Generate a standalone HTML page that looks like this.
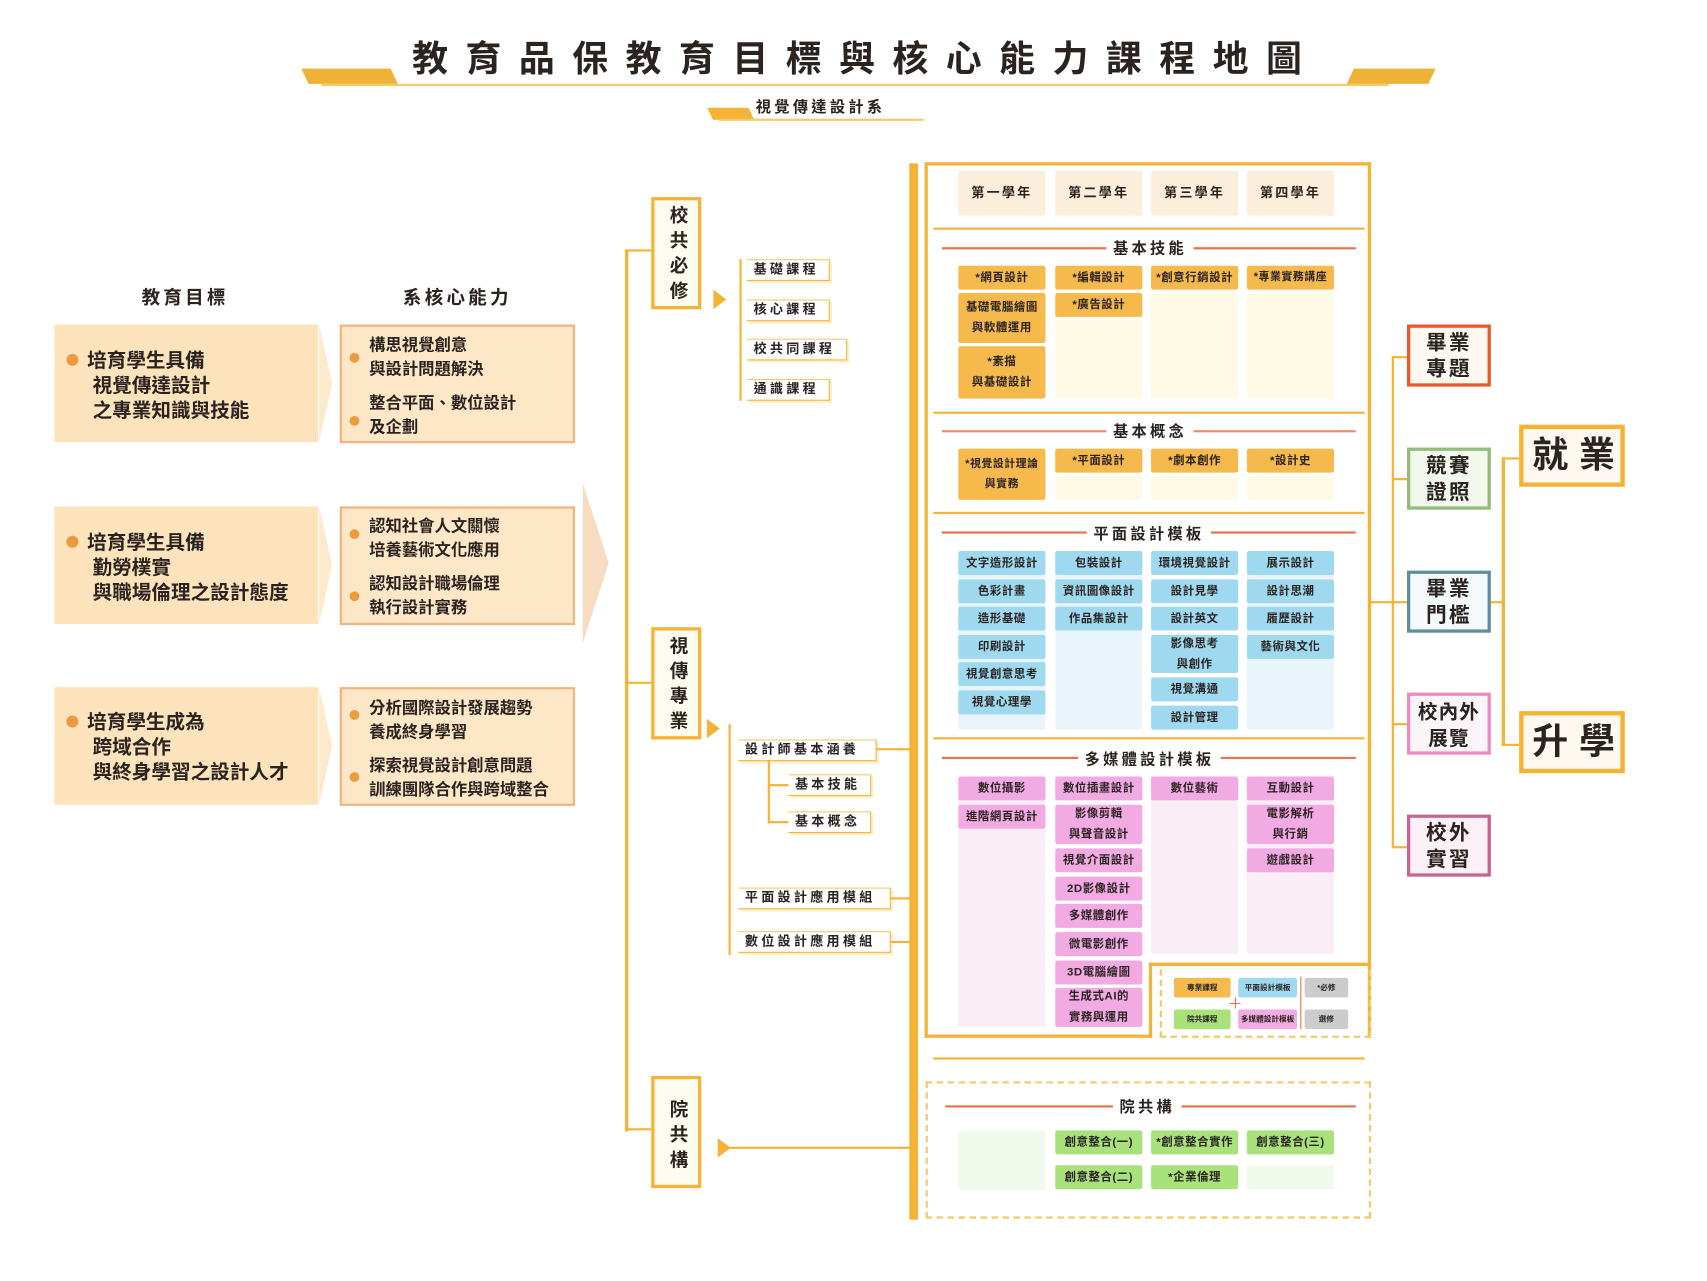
<!DOCTYPE html>
<html><head><meta charset="utf-8">
<style>
html,body{margin:0;padding:0;background:#fff;}
body{width:1707px;height:1280px;overflow:hidden;position:relative;}
#w{position:absolute;left:0;top:0;width:1568px;height:1176px;transform:scale(1.089);transform-origin:0 0;font-family:"Liberation Sans","Noto Sans CJK TC",sans-serif;color:#2a2320;}
#w div{position:absolute;box-sizing:border-box;}
.c{width:80px;display:flex;align-items:center;justify-content:center;font-size:10.5px;font-weight:bold;text-align:center;line-height:1.8;border-radius:2px;letter-spacing:0.5px;}
.o{background:#f6b94c;}
.po{background:#fefae6;}
.b{background:#9fd9ef;}
.pb{background:#eaf5fb;}
.p{background:#f2aae3;}
.pp{background:#f9eef6;}
.g{background:#a9e27b;}
.pg{background:#f1f8ec;}
.y{background:#fbeedb;}
.ln{background:#f5b335;}
.rl{background:#e9704a;height:1.5px;}
.st{font-size:14px;font-weight:bold;letter-spacing:3px;background:#fff;padding:0 6px;}
.tag{height:20px;background:#fff;border:1.5px solid #f5b335;border-left:none;border-top:1px solid #f5c96a;font-size:12px;font-weight:bold;letter-spacing:3px;padding-left:6px;line-height:17px;box-shadow:2px 2px 0 #fdf0c8;white-space:nowrap;}
.goal{background:#fde3bb;font-size:18px;font-weight:bold;line-height:23px;}
.core{background:#fde7c6;border:2px solid #efb480;font-size:15px;font-weight:bold;line-height:22px;}
.dot{width:11px;height:11px;border-radius:50%;background:#ec9a3f;}
.vb{background:#fefbf0;border:3px solid #f5b335;font-size:17px;font-weight:bold;writing-mode:vertical-rl;text-align:center;line-height:40px;letter-spacing:6px;}
.out{width:77px;height:57px;border:3px solid;font-size:19px;font-weight:bold;text-align:center;line-height:24px;padding-top:3px;letter-spacing:2px;white-space:nowrap;}
.big{width:97px;height:57px;border:4px solid #f5b335;background:#fdf9f0;font-size:33px;font-weight:bold;text-align:center;line-height:48px;letter-spacing:10px;padding-left:8px;white-space:nowrap;}
.lg{font-size:7px;font-weight:bold;display:flex;align-items:center;justify-content:center;border-radius:2px;white-space:nowrap;}
</style></head><body><div id="w">

<!-- title -->
<div style="left:280px;top:63px;width:82px;height:14px;background:#edb236;transform:skewX(25deg);"></div>
<div style="left:1240px;top:63px;width:75px;height:14px;background:#edb236;transform:skewX(-25deg);"></div>
<div style="left:295px;top:77px;width:980px;height:2px;background:#f5c96a;"></div>
<div style="left:300px;top:32px;width:990px;text-align:center;font-size:33px;font-weight:bold;letter-spacing:16px;line-height:44px;">教育品保教育目標與核心能力課程地圖</div>
<div style="left:652px;top:99px;width:38px;height:11px;background:#f5b335;transform:skewX(25deg);"></div>
<div style="left:660px;top:109px;width:188px;height:2px;background:#f5c96a;"></div>
<div style="left:694px;top:88px;font-size:14px;font-weight:bold;letter-spacing:3px;line-height:20px;">視覺傳達設計系</div>

<!-- headings -->
<div style="left:110px;top:259px;width:120px;text-align:center;font-size:17px;font-weight:bold;letter-spacing:3px;">教育目標</div>
<div style="left:350px;top:259px;width:140px;text-align:center;font-size:17px;font-weight:bold;letter-spacing:3px;">系核心能力</div>

<!-- goals -->
<div class="goal" style="left:50px;top:298px;width:242px;height:108px;padding:22px 0 0 30px;">培育學生具備<br>&nbsp;視覺傳達設計<br>&nbsp;之專業知識與技能</div>
<div class="dot" style="left:61px;top:325px;"></div>
<div class="goal" style="left:50px;top:465px;width:242px;height:108px;padding:22px 0 0 30px;">培育學生具備<br>&nbsp;勤勞樸實<br>&nbsp;與職場倫理之設計態度</div>
<div class="dot" style="left:61px;top:492px;"></div>
<div class="goal" style="left:50px;top:631px;width:242px;height:108px;padding:21px 0 0 30px;">培育學生成為<br>&nbsp;跨域合作<br>&nbsp;與終身學習之設計人才</div>
<div class="dot" style="left:61px;top:657px;"></div>
<svg style="position:absolute;left:293px;top:298px" width="14" height="442"><polygon points="0,0 12,54 0,108" fill="#fde9cc"/><polygon points="0,167 12,221 0,275" fill="#fde9cc"/><polygon points="0,333 12,387 0,441" fill="#fde9cc"/></svg>

<div class="core" style="left:312px;top:298px;width:216px;height:109px;padding:7px 0 0 25px;">構思視覺創意<br>與設計問題解決<br><div style="position:static;height:9px"></div>整合平面、數位設計<br>及企劃</div>
<div class="dot" style="left:321px;top:324px;width:9px;height:9px"></div><div class="dot" style="left:321px;top:382px;width:9px;height:9px"></div>
<div class="core" style="left:312px;top:465px;width:216px;height:109px;padding:6px 0 0 25px;">認知社會人文關懷<br>培養藝術文化應用<br><div style="position:static;height:9px"></div>認知設計職場倫理<br>執行設計實務</div>
<div class="dot" style="left:321px;top:486px;width:9px;height:9px"></div><div class="dot" style="left:321px;top:543px;width:9px;height:9px"></div>
<div class="core" style="left:312px;top:631px;width:216px;height:109px;padding:7px 0 0 25px;">分析國際設計發展趨勢<br>養成終身學習<br><div style="position:static;height:9px"></div>探索視覺設計創意問題<br>訓練團隊合作與跨域整合</div>
<div class="dot" style="left:321px;top:652px;width:9px;height:9px"></div><div class="dot" style="left:321px;top:709px;width:9px;height:9px"></div>
<svg style="position:absolute;left:535px;top:443px" width="26" height="150"><polygon points="0,0 24,74 0,148" fill="#f7dcc4"/></svg>

<!-- trunk -->
<div class="ln" style="left:574px;top:229px;width:3px;height:810px;"></div>
<div class="ln" style="left:574px;top:229px;width:24px;height:2px;"></div>
<div class="ln" style="left:574px;top:626px;width:24px;height:2px;"></div>
<div class="ln" style="left:574px;top:1036px;width:24px;height:2px;"></div>
<div class="vb" style="left:598px;top:181px;width:46px;height:103px;padding-top:4px;">校共必修</div>
<div class="vb" style="left:598px;top:576px;width:46px;height:103px;padding-top:4px;">視傳專業</div>
<div class="vb" style="left:598px;top:988px;width:46px;height:103px;padding-top:10px;">院共構</div>
<svg style="position:absolute;left:655px;top:266px" width="14" height="18"><polygon points="0,0 12,9 0,18" fill="#f5b335"/></svg>
<svg style="position:absolute;left:649px;top:660px" width="14" height="18"><polygon points="0,0 12,9 0,18" fill="#f5b335"/></svg>
<svg style="position:absolute;left:659px;top:1045px" width="14" height="18"><polygon points="0,0 12,9 0,18" fill="#f5b335"/></svg>
<div class="ln" style="left:670px;top:1053px;width:167px;height:2px;"></div>

<!-- 校共必修 sub -->
<div class="ln" style="left:679px;top:238px;width:2px;height:130px;"></div>
<div class="tag" style="left:686px;top:238px;width:76px;">基礎課程</div>
<div class="tag" style="left:686px;top:275px;width:76px;">核心課程</div>
<div class="tag" style="left:686px;top:311px;width:92px;">校共同課程</div>
<div class="tag" style="left:686px;top:348px;width:76px;">通識課程</div>

<!-- 視傳專業 sub -->
<div class="ln" style="left:669px;top:665px;width:2px;height:212px;"></div>
<div class="tag" style="left:678px;top:679px;width:127px;">設計師基本涵養</div>
<div class="ln" style="left:805px;top:687px;width:31px;height:2px;"></div>
<div class="ln" style="left:705px;top:698px;width:2px;height:58px;"></div>
<div class="ln" style="left:705px;top:720px;width:19px;height:2px;"></div>
<div class="ln" style="left:705px;top:754px;width:19px;height:2px;"></div>
<div class="tag" style="left:724px;top:711px;width:76px;">基本技能</div>
<div class="tag" style="left:724px;top:745px;width:76px;">基本概念</div>
<div class="tag" style="left:678px;top:815px;width:140px;">平面設計應用模組</div>
<div class="tag" style="left:678px;top:855px;width:140px;">數位設計應用模組</div>
<div class="ln" style="left:818px;top:824px;width:18px;height:2px;"></div>
<div class="ln" style="left:818px;top:864px;width:18px;height:2px;"></div>

<!-- main bar & frame -->
<div class="ln" style="left:835px;top:150px;width:8px;height:970px;"></div>
<div style="left:849px;top:149px;width:410px;height:804px;border:3px solid #f5b335;border-bottom:none;"></div>
<div class="ln" style="left:849px;top:950px;width:209px;height:3px;"></div>
<div class="ln" style="left:1055px;top:884px;width:3px;height:69px;"></div>
<div class="ln" style="left:1055px;top:884px;width:204px;height:3px;"></div>
<div style="left:1065px;top:890px;width:194px;height:63px;border:2px dashed #f5c96a;border-top:none;"></div>

<!-- years -->
<div class="c y" style="left:880px;top:157px;height:41px;font-size:12px;letter-spacing:2px;">第一學年</div>
<div class="c y" style="left:969px;top:157px;height:41px;font-size:12px;letter-spacing:2px;">第二學年</div>
<div class="c y" style="left:1057px;top:157px;height:41px;font-size:12px;letter-spacing:2px;">第三學年</div>
<div class="c y" style="left:1145px;top:157px;height:41px;font-size:12px;letter-spacing:2px;">第四學年</div>

<div class="ln" style="left:857px;top:209px;width:396px;height:2px;"></div>
<div class="ln" style="left:857px;top:378px;width:396px;height:2px;"></div>
<div class="ln" style="left:857px;top:470px;width:396px;height:2px;"></div>
<div class="ln" style="left:857px;top:677px;width:396px;height:2px;"></div>
<div class="ln" style="left:857px;top:971px;width:396px;height:2px;"></div>

<!-- 基本技能 -->
<div class="rl" style="left:865px;top:227px;width:380px;"></div>
<div class="st" style="left:1016px;top:218px;">基本技能</div>
<div class="c o" style="left:880px;top:244px;height:22px;">*網頁設計</div>
<div class="c o" style="left:880px;top:269px;height:46px;">基礎電腦繪圖<br>與軟體運用</div>
<div class="c o" style="left:880px;top:318px;height:48px;">*素描<br>與基礎設計</div>
<div class="c o" style="left:969px;top:244px;height:22px;">*編輯設計</div>
<div class="c o" style="left:969px;top:269px;height:22px;">*廣告設計</div>
<div class="c po" style="left:969px;top:294px;height:72px;"></div>
<div class="c o" style="left:1057px;top:244px;height:22px;">*創意行銷設計</div>
<div class="c po" style="left:1057px;top:269px;height:97px;"></div>
<div class="c o" style="left:1145px;top:244px;height:22px;font-size:10px;">*專業實務講座</div>
<div class="c po" style="left:1145px;top:269px;height:97px;"></div>

<!-- 基本概念 -->
<div class="rl" style="left:865px;top:395px;width:380px;background:#f08a6a;"></div>
<div class="st" style="left:1016px;top:386px;">基本概念</div>
<div class="c o" style="left:880px;top:412px;height:47px;font-size:10px;">*視覺設計理論<br>與實務</div>
<div class="c o" style="left:969px;top:412px;height:22px;">*平面設計</div>
<div class="c po" style="left:969px;top:437px;height:22px;"></div>
<div class="c o" style="left:1057px;top:412px;height:22px;">*劇本創作</div>
<div class="c po" style="left:1057px;top:437px;height:22px;"></div>
<div class="c o" style="left:1145px;top:412px;height:22px;">*設計史</div>
<div class="c po" style="left:1145px;top:437px;height:22px;"></div>

<!-- 平面設計模板 -->
<div class="rl" style="left:865px;top:488px;width:380px;"></div>
<div class="st" style="left:998px;top:480px;">平面設計模板</div>
<div class="c pb" style="left:880px;top:506px;height:164px;"></div>
<div class="c b" style="left:880px;top:506px;height:22px;">文字造形設計</div>
<div class="c b" style="left:880px;top:532px;height:22px;">色彩計畫</div>
<div class="c b" style="left:880px;top:557px;height:22px;">造形基礎</div>
<div class="c b" style="left:880px;top:583px;height:22px;">印刷設計</div>
<div class="c b" style="left:880px;top:608px;height:22px;">視覺創意思考</div>
<div class="c b" style="left:880px;top:634px;height:22px;">視覺心理學</div>
<div class="c pb" style="left:969px;top:506px;height:164px;"></div>
<div class="c b" style="left:969px;top:506px;height:22px;">包裝設計</div>
<div class="c b" style="left:969px;top:532px;height:22px;">資訊圖像設計</div>
<div class="c b" style="left:969px;top:557px;height:22px;">作品集設計</div>
<div class="c b" style="left:1057px;top:506px;height:22px;">環境視覺設計</div>
<div class="c b" style="left:1057px;top:532px;height:22px;">設計見學</div>
<div class="c b" style="left:1057px;top:557px;height:22px;">設計英文</div>
<div class="c b" style="left:1057px;top:583px;height:35px;">影像思考<br>與創作</div>
<div class="c b" style="left:1057px;top:622px;height:22px;">視覺溝通</div>
<div class="c b" style="left:1057px;top:648px;height:22px;">設計管理</div>
<div class="c pb" style="left:1145px;top:506px;height:164px;"></div>
<div class="c b" style="left:1145px;top:506px;height:22px;">展示設計</div>
<div class="c b" style="left:1145px;top:532px;height:22px;">設計思潮</div>
<div class="c b" style="left:1145px;top:557px;height:22px;">履歷設計</div>
<div class="c b" style="left:1145px;top:583px;height:22px;">藝術與文化</div>

<!-- 多媒體設計模板 -->
<div class="rl" style="left:865px;top:695px;width:380px;"></div>
<div class="st" style="left:990px;top:687px;">多媒體設計模板</div>
<div class="c pp" style="left:880px;top:713px;height:230px;"></div>
<div class="c p" style="left:880px;top:713px;height:22px;">數位攝影</div>
<div class="c p" style="left:880px;top:739px;height:22px;">進階網頁設計</div>
<div class="c p" style="left:969px;top:713px;height:22px;">數位插畫設計</div>
<div class="c p" style="left:969px;top:739px;height:36px;">影像剪輯<br>與聲音設計</div>
<div class="c p" style="left:969px;top:779px;height:22px;">視覺介面設計</div>
<div class="c p" style="left:969px;top:805px;height:22px;">2D影像設計</div>
<div class="c p" style="left:969px;top:830px;height:22px;">多媒體創作</div>
<div class="c p" style="left:969px;top:856px;height:22px;">微電影創作</div>
<div class="c p" style="left:969px;top:882px;height:22px;">3D電腦繪圖</div>
<div class="c p" style="left:969px;top:907px;height:36px;">生成式AI的<br>實務與運用</div>
<div class="c pp" style="left:1057px;top:713px;height:163px;"></div>
<div class="c p" style="left:1057px;top:713px;height:22px;">數位藝術</div>
<div class="c pp" style="left:1145px;top:713px;height:163px;"></div>
<div class="c p" style="left:1145px;top:713px;height:22px;">互動設計</div>
<div class="c p" style="left:1145px;top:739px;height:36px;">電影解析<br>與行銷</div>
<div class="c p" style="left:1145px;top:779px;height:22px;">遊戲設計</div>

<!-- legend -->
<div class="lg o" style="left:1078px;top:898px;width:52px;height:18px;">專業課程</div>
<div class="lg g" style="left:1078px;top:927px;width:52px;height:18px;">院共課程</div>
<div class="lg b" style="left:1137px;top:898px;width:54px;height:18px;">平面設計模板</div>
<div class="lg p" style="left:1137px;top:927px;width:54px;height:18px;">多媒體設計模板</div>
<div class="lg" style="left:1198px;top:898px;width:40px;height:18px;background:#ccc;">*必修</div>
<div class="lg" style="left:1198px;top:927px;width:40px;height:18px;background:#ccc;">選修</div>
<div style="left:1194px;top:897px;width:1px;height:48px;background:#e9704a;"></div>
<div style="left:1129px;top:921px;width:10px;height:1px;background:#e9704a;"></div>
<div style="left:1134px;top:916px;width:1px;height:10px;background:#e9704a;"></div>

<!-- 院共構 -->
<div style="left:850px;top:993px;width:409px;height:126px;border:2px dashed #f5c96a;"></div>
<div class="rl" style="left:868px;top:1015px;width:377px;"></div>
<div class="st" style="left:1022px;top:1006px;">院共構</div>
<div class="c pg" style="left:880px;top:1038px;height:55px;"></div>
<div class="c g" style="left:969px;top:1038px;height:22px;">創意整合(一)</div>
<div class="c g" style="left:969px;top:1070px;height:22px;">創意整合(二)</div>
<div class="c g" style="left:1057px;top:1038px;height:22px;">*創意整合實作</div>
<div class="c g" style="left:1057px;top:1070px;height:22px;">*企業倫理</div>
<div class="c g" style="left:1145px;top:1038px;height:22px;">創意整合(三)</div>
<div class="c pg" style="left:1145px;top:1070px;height:22px;"></div>

<!-- outcomes -->
<div class="ln" style="left:1258px;top:552px;width:21px;height:1.5px;"></div>
<div class="ln" style="left:1278px;top:327px;width:1.5px;height:451px;"></div>
<div class="ln" style="left:1278px;top:327px;width:14px;height:1.5px;"></div>
<div class="ln" style="left:1278px;top:439px;width:14px;height:1.5px;"></div>
<div class="ln" style="left:1278px;top:552px;width:14px;height:1.5px;"></div>
<div class="ln" style="left:1278px;top:664px;width:14px;height:1.5px;"></div>
<div class="ln" style="left:1278px;top:777px;width:14px;height:1.5px;"></div>
<div class="out" style="left:1292px;top:298px;border-color:#e8582a;background:#fdf9f0;">畢業<br>專題</div>
<div class="out" style="left:1292px;top:411px;border-color:#93bb7c;background:#f3f8ee;">競賽<br>證照</div>
<div class="out" style="left:1292px;top:524px;border-color:#5e8da0;background:#f4f9fc;">畢業<br>門檻</div>
<div class="out" style="left:1292px;top:636px;border-color:#ec8bc0;background:#fbf5f9;font-size:18px;letter-spacing:1px;">校內外<br>展覽</div>
<div class="out" style="left:1292px;top:748px;border-color:#c56594;background:#fcf1f6;">校外<br>實習</div>

<div class="ln" style="left:1379px;top:420px;width:3px;height:265px;"></div>
<div class="ln" style="left:1369px;top:552px;width:11px;height:1.5px;"></div>
<div class="ln" style="left:1379px;top:420px;width:16px;height:2px;"></div>
<div class="ln" style="left:1379px;top:683px;width:16px;height:2px;"></div>
<div class="big" style="left:1395px;top:390px;">就業</div>
<div class="big" style="left:1395px;top:653px;">升學</div>

</div></body></html>
